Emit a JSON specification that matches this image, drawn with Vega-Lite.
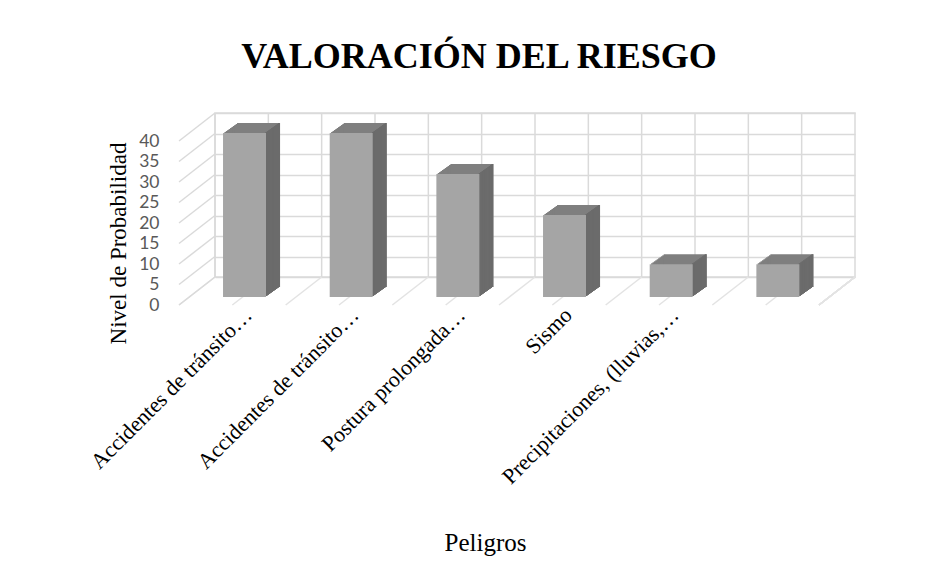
{
  "$schema": "https://vega.github.io/schema/vega-lite/v6.json",
  "width": 640,
  "height": 164,
  "autosize": "none",
  "padding": {"left": 215, "top": 113, "right": 75, "bottom": 289},
  "background": "white",
  "title": {
    "text": "VALORACIÓN DEL RIESGO",
    "font": "Liberation Serif",
    "fontSize": 36,
    "fontWeight": "bold",
    "color": "#000000",
    "anchor": "middle",
    "frame": "group",
    "baseline": "alphabetic",
    "offset": 8,
    "dx": -56
  },
  "datasets": {
    "peligros": [
      {"peligro": "Accidentes de tránsito en el trayecto", "valor": 40},
      {"peligro": "Accidentes de tránsito en la jornada", "valor": 40},
      {"peligro": "Postura prolongada de pie", "valor": 30},
      {"peligro": "Sismo", "valor": 20},
      {"peligro": "Precipitaciones, (lluvias, granizadas)", "valor": 8},
      {"peligro": "", "valor": 8}
    ],
    "ticks": [
      {"v": 0}, {"v": 5}, {"v": 10}, {"v": 15}, {"v": 20},
      {"v": 25}, {"v": 30}, {"v": 35}, {"v": 40}
    ]
  },
  "data": {"name": "peligros"},
  "resolve": {"axis": {"y": "independent"}},
  "encoding": {
    "x": {
      "field": "peligro",
      "type": "nominal",
      "sort": null,
      "scale": {
        "domain": ["Accidentes de tránsito en el trayecto", "Accidentes de tránsito en la jornada", "Postura prolongada de pie", "Sismo", "Precipitaciones, (lluvias, granizadas)", ""],
        "paddingInner": 0,
        "paddingOuter": 0
      },
      "axis": {
        "orient": "bottom",
        "offset": 28,
        "domain": false,
        "ticks": false,
        "grid": false,
        "labelAngle": -45,
        "labelAlign": "right",
        "labelBaseline": "middle",
        "labelOffset": -20,
        "labelPadding": 6,
        "labelLimit": 0,
        "labelOverlap": false,
        "labelFont": "Liberation Serif",
        "labelFontSize": 22,
        "labelColor": "#000000",
        "labelExpr": "indexof(datum.label, 'Accidentes') == 0 ? 'Accidentes de tránsito…' : indexof(datum.label, 'Postura') == 0 ? 'Postura prolongada…' : indexof(datum.label, 'Precipitaciones') == 0 ? 'Precipitaciones, (lluvias,…' : datum.label",
        "title": "Peligros",
        "titleFont": "Liberation Serif",
        "titleFontSize": 25,
        "titleFontWeight": "normal",
        "titleColor": "#000000",
        "titleX": 270,
        "titleY": 245,
        "titleBaseline": "alphabetic",
        "titleAlign": "center"
      }
    }
  },
  "layer": [
    {
      "mark": {
        "type": "bar", "width": 43, "color": "#a5a5a5", "opacity": 0,
        "xOffset": -23.8, "x2Offset": -23.8, "yOffset": 20, "y2Offset": 20
      },
      "encoding": {
        "y": {
          "field": "valor",
          "type": "quantitative",
          "scale": {"domain": [0, 40], "nice": false, "zero": true},
          "axis": {
            "values": [0, 5, 10, 15, 20, 25, 30, 35, 40],
            "orient": "left",
            "offset": 36,
            "domain": false,
            "ticks": false,
            "grid": true,
            "gridColor": "#dadada",
            "gridWidth": 1.5,
            "labelOverlap": false,
            "labelOffset": 28,
            "labelPadding": 20,
            "labelFont": "Lato",
            "labelFontSize": 17.5,
            "labelColor": "#595959",
            "title": "Nivel de Probabilidad",
            "titleFont": "Liberation Serif",
            "titleFontSize": 23,
            "titleFontWeight": "normal",
            "titleColor": "#000000",
            "titleX": -61,
            "titleY": 130,
            "titleAngle": -90,
            "titleAlign": "center",
            "titleBaseline": "middle"
          }
        }
      }
    },
    {
      "mark": {"type": "rule", "color": "#dadada", "strokeWidth": 1.5},
      "encoding": {"x": {"field": "peligro", "type": "nominal", "bandPosition": 0}}
    },
    {
      "mark": {"type": "rule", "color": "#dadada", "strokeWidth": 1.5},
      "encoding": {"x": {"field": "peligro", "type": "nominal", "bandPosition": 0.5}}
    },
    {
      "mark": {"type": "rule", "color": "#e3e3e3", "strokeWidth": 1.5, "x2Offset": -36, "y2Offset": 28},
      "encoding": {
        "x": {"field": "peligro", "type": "nominal", "bandPosition": 0},
        "x2": {"field": "peligro", "bandPosition": 0},
        "y": {"datum": 0, "type": "quantitative", "axis": null},
        "y2": {"datum": 0}
      }
    },
    {
      "mark": {"type": "rule", "color": "#e3e3e3", "strokeWidth": 1.5, "x2Offset": -36, "y2Offset": 28},
      "encoding": {
        "x": {"field": "peligro", "type": "nominal", "bandPosition": 0.5},
        "x2": {"field": "peligro", "bandPosition": 0.5},
        "y": {"datum": 0, "type": "quantitative", "axis": null},
        "y2": {"datum": 0}
      }
    },
    {
      "mark": {"type": "rule", "color": "#e3e3e3", "strokeWidth": 1.5, "x2Offset": -36, "y2Offset": 28},
      "encoding": {
        "x": {"datum": "", "type": "nominal", "bandPosition": 1},
        "x2": {"datum": "", "bandPosition": 1},
        "y": {"datum": 0, "type": "quantitative", "axis": null},
        "y2": {"datum": 0}
      }
    },
    {
      "data": {"name": "ticks"},
      "mark": {"type": "rule", "color": "#dadada", "strokeWidth": 1.5, "x2Offset": -36, "y2Offset": 28},
      "encoding": {
        "x": {"datum": "Accidentes de tránsito en el trayecto", "type": "nominal", "bandPosition": 0},
        "x2": {"datum": "Accidentes de tránsito en el trayecto", "bandPosition": 0},
        "y": {"field": "v", "type": "quantitative", "axis": null},
        "y2": {"field": "v"}
      }
    },
    {"mark": {"type": "bar", "width": 43, "color": "#7f7f7f", "xOffset": -22.4, "x2Offset": -22.4, "yOffset": 19, "y2Offset": 19}, "encoding": {"y": {"field": "valor", "type": "quantitative", "axis": null}}},
    {"mark": {"type": "bar", "width": 43, "color": "#7f7f7f", "xOffset": -21.0, "x2Offset": -21.0, "yOffset": 18, "y2Offset": 18}, "encoding": {"y": {"field": "valor", "type": "quantitative", "axis": null}}},
    {"mark": {"type": "bar", "width": 43, "color": "#7f7f7f", "xOffset": -19.6, "x2Offset": -19.6, "yOffset": 17, "y2Offset": 17}, "encoding": {"y": {"field": "valor", "type": "quantitative", "axis": null}}},
    {"mark": {"type": "bar", "width": 43, "color": "#7f7f7f", "xOffset": -18.2, "x2Offset": -18.2, "yOffset": 16, "y2Offset": 16}, "encoding": {"y": {"field": "valor", "type": "quantitative", "axis": null}}},
    {"mark": {"type": "bar", "width": 43, "color": "#7f7f7f", "xOffset": -16.8, "x2Offset": -16.8, "yOffset": 15, "y2Offset": 15}, "encoding": {"y": {"field": "valor", "type": "quantitative", "axis": null}}},
    {"mark": {"type": "bar", "width": 43, "color": "#7f7f7f", "xOffset": -15.4, "x2Offset": -15.4, "yOffset": 14, "y2Offset": 14}, "encoding": {"y": {"field": "valor", "type": "quantitative", "axis": null}}},
    {"mark": {"type": "bar", "width": 43, "color": "#7f7f7f", "xOffset": -14.0, "x2Offset": -14.0, "yOffset": 13, "y2Offset": 13}, "encoding": {"y": {"field": "valor", "type": "quantitative", "axis": null}}},
    {"mark": {"type": "bar", "width": 43, "color": "#7f7f7f", "xOffset": -12.6, "x2Offset": -12.6, "yOffset": 12, "y2Offset": 12}, "encoding": {"y": {"field": "valor", "type": "quantitative", "axis": null}}},
    {"mark": {"type": "bar", "width": 43, "color": "#7f7f7f", "xOffset": -11.2, "x2Offset": -11.2, "yOffset": 11, "y2Offset": 11}, "encoding": {"y": {"field": "valor", "type": "quantitative", "axis": null}}},
    {"mark": {"type": "bar", "width": 43, "color": "#7f7f7f", "xOffset": -9.8, "x2Offset": -9.8, "yOffset": 10, "y2Offset": 10}, "encoding": {"y": {"field": "valor", "type": "quantitative", "axis": null}}},
    {"mark": {"type": "bar", "width": 2, "color": "#6b6b6b", "xOffset": -1.9, "x2Offset": -1.9, "yOffset": 19, "y2Offset": 19}, "encoding": {"y": {"field": "valor", "type": "quantitative", "axis": null}}},
    {"mark": {"type": "bar", "width": 2, "color": "#6b6b6b", "xOffset": -0.5, "x2Offset": -0.5, "yOffset": 18, "y2Offset": 18}, "encoding": {"y": {"field": "valor", "type": "quantitative", "axis": null}}},
    {"mark": {"type": "bar", "width": 2, "color": "#6b6b6b", "xOffset": 0.9, "x2Offset": 0.9, "yOffset": 17, "y2Offset": 17}, "encoding": {"y": {"field": "valor", "type": "quantitative", "axis": null}}},
    {"mark": {"type": "bar", "width": 2, "color": "#6b6b6b", "xOffset": 2.3, "x2Offset": 2.3, "yOffset": 16, "y2Offset": 16}, "encoding": {"y": {"field": "valor", "type": "quantitative", "axis": null}}},
    {"mark": {"type": "bar", "width": 2, "color": "#6b6b6b", "xOffset": 3.7, "x2Offset": 3.7, "yOffset": 15, "y2Offset": 15}, "encoding": {"y": {"field": "valor", "type": "quantitative", "axis": null}}},
    {"mark": {"type": "bar", "width": 2, "color": "#6b6b6b", "xOffset": 5.1, "x2Offset": 5.1, "yOffset": 14, "y2Offset": 14}, "encoding": {"y": {"field": "valor", "type": "quantitative", "axis": null}}},
    {"mark": {"type": "bar", "width": 2, "color": "#6b6b6b", "xOffset": 6.5, "x2Offset": 6.5, "yOffset": 13, "y2Offset": 13}, "encoding": {"y": {"field": "valor", "type": "quantitative", "axis": null}}},
    {"mark": {"type": "bar", "width": 2, "color": "#6b6b6b", "xOffset": 7.9, "x2Offset": 7.9, "yOffset": 12, "y2Offset": 12}, "encoding": {"y": {"field": "valor", "type": "quantitative", "axis": null}}},
    {"mark": {"type": "bar", "width": 2, "color": "#6b6b6b", "xOffset": 9.3, "x2Offset": 9.3, "yOffset": 11, "y2Offset": 11}, "encoding": {"y": {"field": "valor", "type": "quantitative", "axis": null}}},
    {"mark": {"type": "bar", "width": 2, "color": "#6b6b6b", "xOffset": 10.7, "x2Offset": 10.7, "yOffset": 10, "y2Offset": 10}, "encoding": {"y": {"field": "valor", "type": "quantitative", "axis": null}}},
    {
      "mark": {"type": "bar", "width": 43, "color": "#a5a5a5", "xOffset": -23.8, "x2Offset": -23.8, "yOffset": 20, "y2Offset": 20},
      "encoding": {"y": {"field": "valor", "type": "quantitative", "axis": null}}
    }
  ],
  "config": {
    "view": {"stroke": "#dadada", "strokeWidth": 1.5},
    "axisY": {"labelOverlap": false}
  }
}
